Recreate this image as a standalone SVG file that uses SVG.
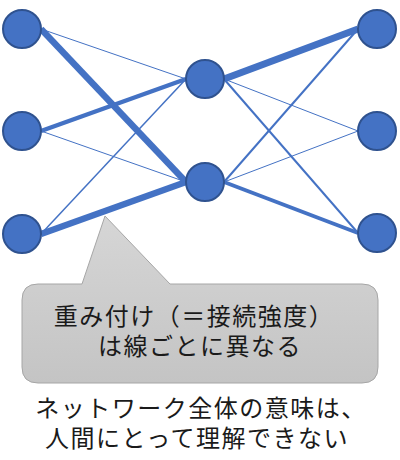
<svg xmlns="http://www.w3.org/2000/svg" width="400" height="460" viewBox="0 0 400 460">
<defs>
<style>
.node{fill:#4472C4;stroke:#2F528F;stroke-width:2}
.e{stroke:#4472C4;fill:none;stroke-linecap:butt}
.t{font-family:"Liberation Sans","Noto Sans CJK JP","Noto Sans CJK SC",sans-serif;font-size:24px;letter-spacing:1.5px;fill:#1a1a1a;text-anchor:middle}
</style>
<linearGradient id="g" x1="0" y1="0" x2="0" y2="1">
<stop offset="0" stop-color="#d6d6d6"/>
<stop offset="1" stop-color="#c4c4c4"/>
</linearGradient>
</defs>
<rect width="400" height="460" fill="#ffffff"/>
<g id="connectors">
<line class="e" x1="41" y1="29" x2="186" y2="79" stroke-width="1"/>
<line class="e" x1="41" y1="29" x2="186" y2="182" stroke-width="6.5"/>
<line class="e" x1="41" y1="131" x2="186" y2="79" stroke-width="4.5"/>
<line class="e" x1="41" y1="131" x2="186" y2="182" stroke-width="1"/>
<line class="e" x1="41" y1="234" x2="186" y2="79" stroke-width="1.5"/>
<line class="e" x1="41" y1="234" x2="186" y2="182" stroke-width="6.5"/>
<line class="e" x1="224" y1="79" x2="358" y2="29" stroke-width="7"/>
<line class="e" x1="224" y1="79" x2="358" y2="131" stroke-width="1"/>
<line class="e" x1="224" y1="79" x2="358" y2="233" stroke-width="2"/>
<line class="e" x1="224" y1="182" x2="358" y2="29" stroke-width="2"/>
<line class="e" x1="224" y1="182" x2="358" y2="131" stroke-width="1"/>
<line class="e" x1="224" y1="182" x2="358" y2="233" stroke-width="4"/>
</g>
<g id="in1"><circle class="node" cx="22" cy="29" r="19"/></g>
<g id="in2"><circle class="node" cx="22" cy="131" r="19"/></g>
<g id="in3"><circle class="node" cx="22" cy="234" r="19"/></g>
<g id="hid1"><circle class="node" cx="205" cy="79" r="19"/></g>
<g id="hid2"><circle class="node" cx="205" cy="182" r="19"/></g>
<g id="out1"><circle class="node" cx="377" cy="29" r="19"/></g>
<g id="out2"><circle class="node" cx="377" cy="131" r="19"/></g>
<g id="out3"><circle class="node" cx="377" cy="233" r="19"/></g>
<g id="callout">
<path d="M38,284 L82,284 L105,216 L170,284 L362,284 Q378,284 378,300 L378,367 Q378,383 362,383 L38,383 Q22,383 22,367 L22,300 Q22,284 38,284 Z" fill="url(#g)" stroke="#a6a6a6" stroke-width="1"/>
<text class="t" x="194" y="325">重み付け（＝接続強度）</text>
<text class="t" x="200" y="355">は線ごとに異なる</text>
</g>
<g id="caption">
<text class="t" x="201" y="417">ネットワーク全体の意味は、</text>
<text class="t" x="197" y="447">人間にとって理解できない</text>
</g>
</svg>
